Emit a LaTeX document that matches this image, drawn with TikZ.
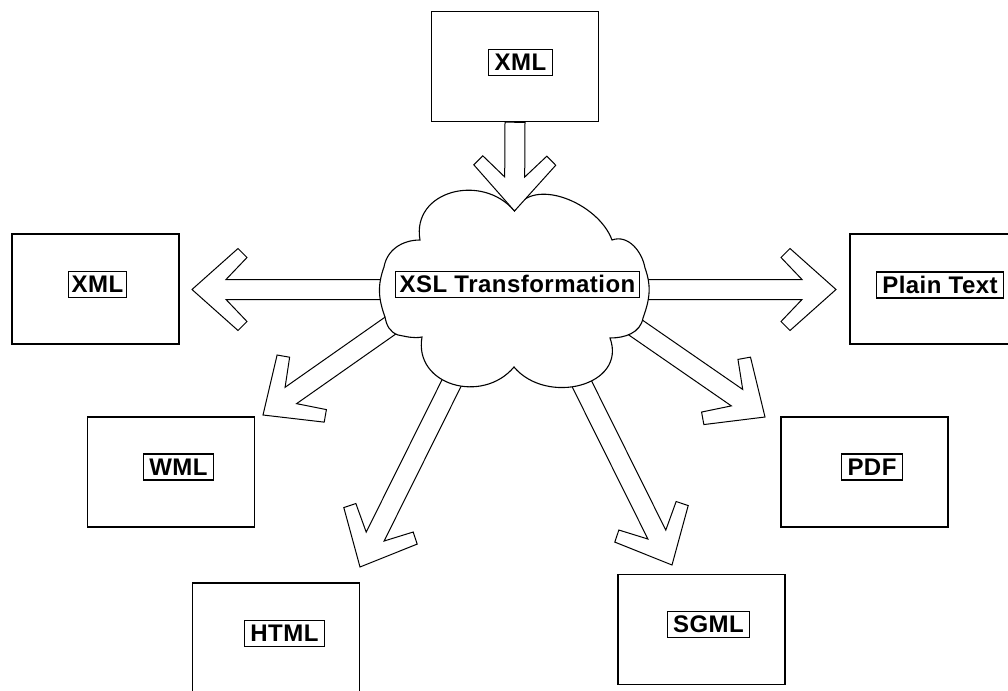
\documentclass[tikz,border=0pt]{standalone}
\usepackage{fontspec}
\setmainfont[LetterSpace=2]{Liberation Sans}
\usepackage{tikz}
\usetikzlibrary{calc}

% hollow block arrow from #1 to its tip #2
\newcommand{\flowarrow}[2]{%
  \path let \p1=(#1), \p2=(#2),
    \n1={atan2(\y2-\y1,\x2-\x1)}, \n2={veclen(\x2-\x1,\y2-\y1)} in
    pic[rotate=\n1] at (#2) {hollow arrow=\n2};}

\begin{document}
\begin{tikzpicture}[
    x=1pt, y=-1pt,
    font=\bfseries\fontsize{24}{28}\selectfont,
    format/.style={rectangle, draw, line width=1.5pt, minimum width=167pt, minimum height=110pt, inner sep=0pt},
    tag/.style={rectangle, draw, line width=1.2pt, inner xsep=6pt, inner ysep=4pt, text height=17pt, text depth=1pt, fill=white},
    hollow/.style={draw, line width=1pt, fill=white, line join=miter},
    puff/.style={draw, line width=1.1pt, fill=white},
    hollow arrow/.pic={
      \path[hollow] (0pt,0pt) -- (-46pt,41pt) -- (-55pt,32pt) -- (-34pt,10pt) -- (-#1,10pt)
        -- (-#1,-10pt) -- (-34pt,-10pt) -- (-55pt,-32pt) -- (-46pt,-41pt) -- cycle;
    }
]
    \useasboundingbox (0,0) rectangle (1008,690);

    % Formats round the transformation
    \node[format] (xmlin) at (515,66.5) {};
    \node[format] (xmlout) at (95.5,289) {};
    \node[format] (plain) at (933.5,289) {};
    \node[format] (wml) at (171,472) {};
    \node[format] (pdf) at (864.5,472) {};
    \node[format] (html) at (276,638) {};
    \node[format] (sgml) at (701.5,629.5) {};

    % Tags
    \node[tag] (xmlin-tag) at ([shift={(5.5,-4)}]xmlin.center) {XML};
    \node[tag, inner xsep=3pt] (xmlout-tag) at ([shift={(2,-4.5)}]xmlout.center) {XML};
    \node[tag] (plain-tag) at ([shift={(6.5,-4)}]plain.center) {Plain Text};
    \node[tag] (wml-tag) at ([shift={(7.5,-5)}]wml.center) {WML};
    \node[tag] (pdf-tag) at ([shift={(7.5,-5)}]pdf.center) {PDF};
    \node[tag] (html-tag) at ([shift={(8.5,-4.5)}]html.center) {HTML};
    \node[tag] (sgml-tag) at ([shift={(7,-5)}]sgml.center) {SGML};

    % Arrow ends
    \coordinate (dip) at (514.5,211);
    \coordinate (c-left) at (450,289.5);  \coordinate (t-left) at (192,289.5);
    \coordinate (c-plain) at (580,289.5); \coordinate (t-plain) at (836,289.5);
    \coordinate (c-wml) at (424,302);     \coordinate (t-wml) at (263,415);
    \coordinate (c-pdf) at (603,305);     \coordinate (t-pdf) at (765,417);
    \coordinate (c-html) at (470,346);    \coordinate (t-html) at (360,567);
    \coordinate (c-sgml) at (562,344);    \coordinate (t-sgml) at (672,565);

    % Outputs
    \flowarrow{c-left}{t-left}
    \flowarrow{c-plain}{t-plain}
    \flowarrow{c-wml}{t-wml}
    \flowarrow{c-pdf}{t-pdf}
    \flowarrow{c-html}{t-html}
    \flowarrow{c-sgml}{t-sgml}

    % Cloud
    \path[puff] (dip) to[out=65,in=110] (612,240) to[out=20,in=100] (645,268)
      to[out=-70,in=70] (643,318) to[out=-100,in=0] (610,338)
      to[out=-70,in=-50, looseness=1.3] (514,367) to[out=-130,in=-100, looseness=1.3] (422,337)
      to[out=-170,in=-10] (398,335) to[out=160,in=-80] (385,317)
      to[out=110,in=-110] (384,267) to[out=80,in=180] (420,240)
      to[out=100,in=130, looseness=1.3] (dip) -- cycle;
    \node[tag, inner xsep=4pt] (xsl) at (517.5,284.5) {XSL Transformation};

    % Input
    \flowarrow{xmlin.south}{dip}
\end{tikzpicture}
\end{document}
